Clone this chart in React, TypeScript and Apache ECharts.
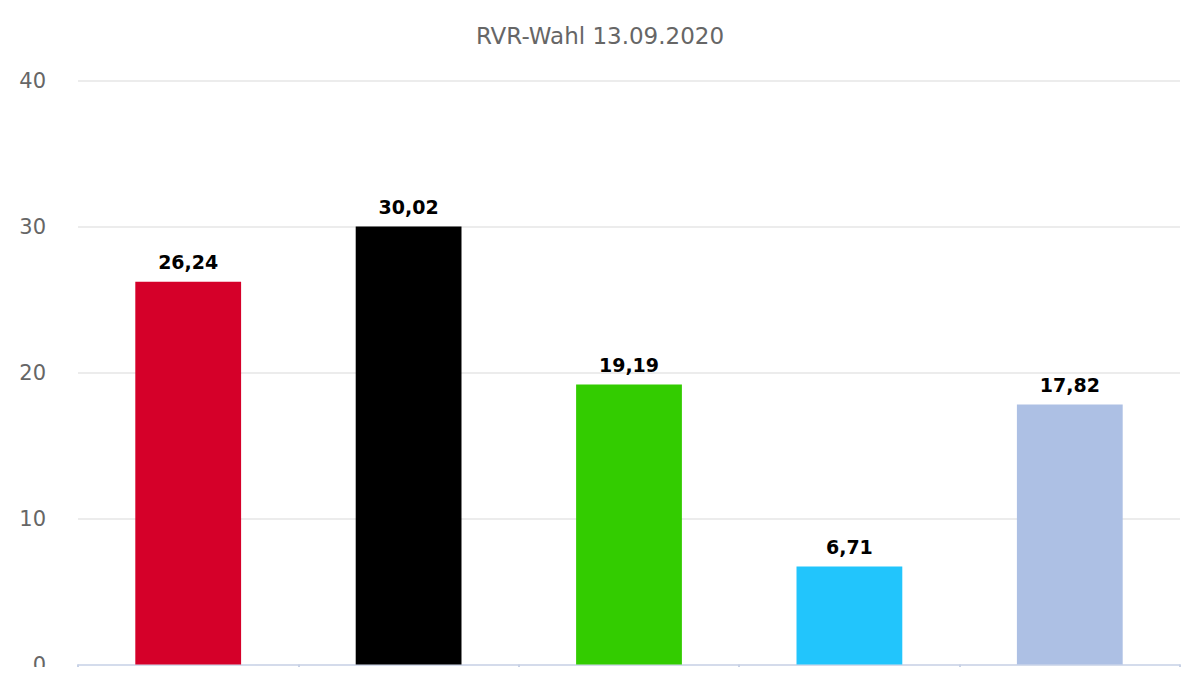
import * as echarts from 'echarts';
import { useEffect, useRef } from 'react';

const parties = ['SPD', 'CDU', 'Grüne', 'AfD', 'Sonstige'];
const shares = [26.24, 30.02, 19.19, 6.71, 17.82];
const barColors = ['#d50029', '#000000', '#33cc00', '#22c5fc', '#adc0e4'];
const yTicks = [0, 10, 20, 30, 40];

export default function App() {
  const chartRef = useRef<HTMLDivElement>(null);

  useEffect(() => {
    if (!chartRef.current) return;
    const chart = echarts.init(chartRef.current, null, { renderer: 'svg' });

    chart.setOption({
      animation: false,
      textStyle: { fontFamily: 'DejaVu Sans' },
      title: {
        text: 'RVR-Wahl 13.09.2020',
        left: 'center',
        top: 19,
        textStyle: { color: '#666666', fontSize: 23, fontWeight: 'normal' },
      },
      grid: { left: 78, right: 20, top: 81, bottom: 10, containLabel: false },
      xAxis: {
        type: 'category',
        data: parties,
        axisLine: { lineStyle: { color: '#ccd6eb', width: 1.5 } },
        axisTick: { show: true, length: 12, lineStyle: { color: '#c8d2e6', width: 2 } },
        axisLabel: { show: false },
      },
      yAxis: {
        type: 'value',
        min: yTicks[0],
        max: yTicks[yTicks.length - 1],
        interval: 10,
        axisLine: { show: false },
        axisTick: { show: false },
        axisLabel: { color: '#666666', fontSize: 21, margin: 32 },
        splitLine: { lineStyle: { color: '#e6e6e6', width: 1.5 } },
      },
      series: [
        {
          type: 'bar',
          barWidth: '48%',
          data: shares.map((v, i) => ({ value: v, itemStyle: { color: barColors[i] } })),
          label: {
            show: true,
            position: 'top',
            distance: 10,
            color: '#000000',
            fontSize: 19,
            fontWeight: 'bold',
            formatter: (p: any) => p.value.toFixed(2).replace('.', ','),
          },
        },
      ],
    });

    return () => chart.dispose();
  }, []);

  return <div ref={chartRef} style={{ width: '1200px', height: '675px', margin: '-8px' }} />;
}
